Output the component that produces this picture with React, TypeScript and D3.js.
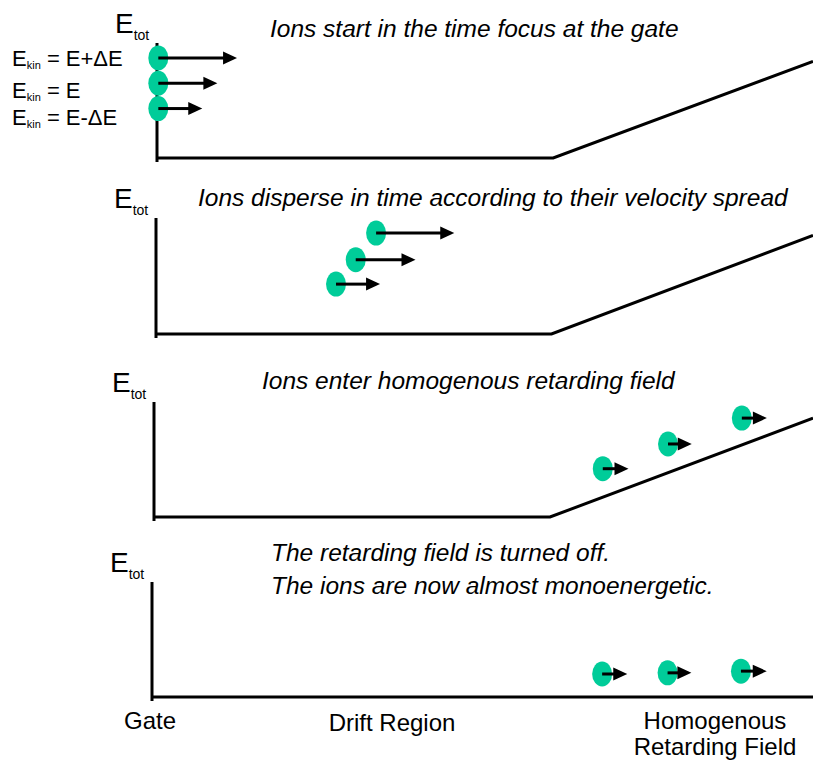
import * as d3 from 'd3';

// Each panel: energy (0..1) vs position (0 = gate, 100 = right edge)
const panelTitles: string[][] = [
  ['Ions start in the time focus at the gate'],
  ['Ions disperse in time according to their velocity spread'],
  ['Ions enter homogenous retarding field'],
  ['The retarding field is turned off.', 'The ions are now almost monoenergetic.'],
];

// field profile: [position, energy]
const fieldProfiles: [number, number][][] = [
  [[0, 0], [60.4, 0], [100, 0.84]],
  [[0, 0], [60.2, 0], [100, 0.85]],
  [[0, 0], [60.1, 0], [100, 0.86]],
  [[0, 0], [100, 0]],
];

// ions: position, energy, arrow length (velocity)
const ionsPerPanel: { pos: number; energy: number; vel: number }[][] = [
  [
    { pos: 0.2, energy: 0.87, vel: 12.0 },
    { pos: 0.2, energy: 0.65, vel: 9.0 },
    { pos: 0.2, energy: 0.43, vel: 6.7 },
  ],
  [
    { pos: 33.5, energy: 0.87, vel: 11.9 },
    { pos: 30.4, energy: 0.64, vel: 9.1 },
    { pos: 27.4, energy: 0.43, vel: 6.7 },
  ],
  [
    { pos: 68.1, energy: 0.42, vel: 3.9 },
    { pos: 78.0, energy: 0.635, vel: 3.6 },
    { pos: 89.2, energy: 0.86, vel: 3.8 },
  ],
  [
    { pos: 68.1, energy: 0.2, vel: 3.8 },
    { pos: 78.0, energy: 0.21, vel: 3.6 },
    { pos: 89.1, energy: 0.225, vel: 3.9 },
  ],
];

const kinLabels = ['= E+\u0394E', '= E', '= E-\u0394E'];
const bottomLabels = ['Gate', 'Drift Region'];

const WIDTH = 813;
const HEIGHT = 760;
// panel frames (axis x, axis top, axis bottom)
const FRAMES = [
  { left: 157, top: 43, bottom: 158 },
  { left: 156, top: 218, bottom: 334 },
  { left: 154, top: 402, bottom: 517 },
  { left: 152, top: 582, bottom: 697 },
];
const TITLE_POS = [
  { x: 270, y: 37 },
  { x: 198, y: 206 },
  { x: 262, y: 389 },
  { x: 271, y: 561 },
];
const ION_COLOUR = '#00CC99';
const FONT = 'Liberation Sans, Arial, Helvetica, sans-serif';

function Arrow({ x1, x2, y }: { x1: number; x2: number; y: number }) {
  const head = 14;
  const half = 6.5;
  return (
    <g>
      <line x1={x1} x2={x2 - head + 1} y1={y} y2={y} stroke="#000" strokeWidth={3} />
      <path d={`M${x2},${y} L${x2 - head},${y - half} L${x2 - head},${y + half} Z`} fill="#000" />
    </g>
  );
}

function Panel({ index }: { index: number }) {
  const f = FRAMES[index];
  const x = d3.scaleLinear().domain([0, 100]).range([f.left, WIDTH]);
  const y = d3.scaleLinear().domain([0, 1]).range([f.bottom, f.top]);
  const line = d3.line<[number, number]>()
    .x(d => x(d[0]))
    .y(d => y(d[1]));
  const t = TITLE_POS[index];

  return (
    <g>
      {/* energy axis */}
      <line x1={f.left} x2={f.left} y1={f.top} y2={f.bottom + 4} stroke="#000" strokeWidth={3} />
      <path d={line(fieldProfiles[index]) ?? ''} fill="none" stroke="#000" strokeWidth={3} strokeLinejoin="miter" />

      {/* E_tot label */}
      <text x={f.left - 42} y={f.top - 10} fontFamily={FONT} fontSize={28} fill="#000">
        E<tspan fontSize={14} dy={7}>tot</tspan>
      </text>

      {panelTitles[index].map((s, i) => (
        <text key={i} x={t.x} y={t.y + i * 33} fontFamily={FONT} fontSize={24.5} fontStyle="italic" fill="#000">
          {s}
        </text>
      ))}

      {ionsPerPanel[index].map((ion, i) => {
        const cx = x(ion.pos);
        const cy = y(ion.energy);
        return (
          <g key={i}>
            <ellipse cx={cx} cy={cy} rx={10} ry={12.5} fill={ION_COLOUR} />
            <Arrow x1={cx} x2={x(ion.pos + ion.vel)} y={cy} />
          </g>
        );
      })}
    </g>
  );
}

export default function App() {
  const kinY = [66, 98, 125];
  return (
    <svg
      width={WIDTH}
      height={HEIGHT}
      style={{ position: 'absolute', left: 0, top: 0, background: '#fff' }}
    >
      <rect width={WIDTH} height={HEIGHT} fill="#fff" />
      {FRAMES.map((_, i) => (
        <Panel key={i} index={i} />
      ))}

      {kinLabels.map((s, i) => (
        <text key={i} x={12} y={kinY[i]} fontFamily={FONT} fontSize={22} fill="#000">
          E<tspan fontSize={11} dy={3}>kin</tspan>
          <tspan dy={-3}> {s}</tspan>
        </text>
      ))}

      <text x={124} y={729} fontFamily={FONT} fontSize={24} fill="#000">{bottomLabels[0]}</text>
      <text x={392} y={731} textAnchor="middle" fontFamily={FONT} fontSize={24} fill="#000">{bottomLabels[1]}</text>
      <text x={715} y={729} textAnchor="middle" fontFamily={FONT} fontSize={24} fill="#000">Homogenous</text>
      <text x={715} y={755} textAnchor="middle" fontFamily={FONT} fontSize={24} fill="#000">Retarding Field</text>
    </svg>
  );
}
